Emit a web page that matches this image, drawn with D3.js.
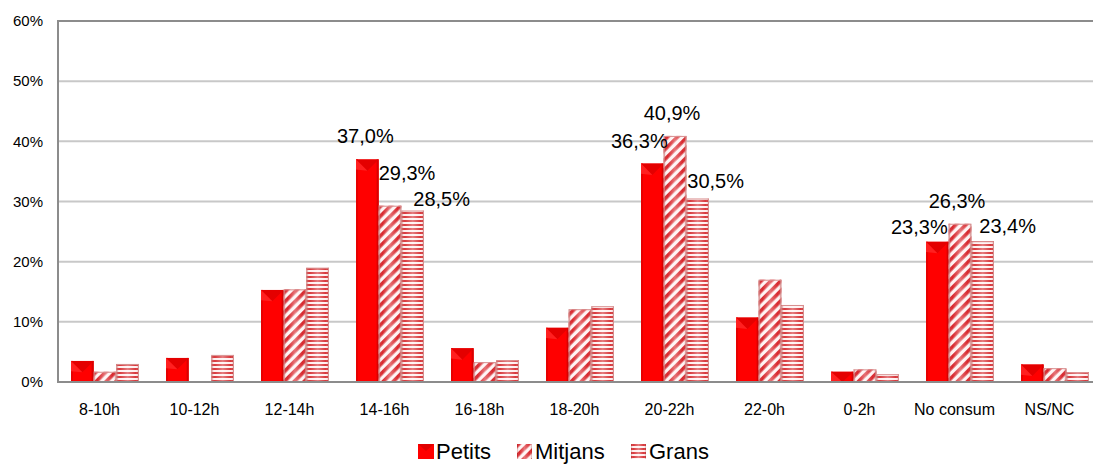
<!DOCTYPE html>
<html><head><meta charset="utf-8">
<script src="https://cdn.jsdelivr.net/npm/d3@7"></script>
<style>body{margin:0;background:#fff}svg{display:block}text{font-family:"Liberation Sans",Arial,sans-serif;fill:#000}</style>
</head><body><svg id="c" width="1093" height="464"></svg>
<script>
const categories = ["8-10h","10-12h","12-14h","14-16h","16-18h","18-20h","20-22h","22-0h","0-2h","No consum","NS/NC"];
const seriesNames = ["Petits","Mitjans","Grans"];
const petits  = [3.5, 4.0, 15.3, 37.0, 5.6, 9.0, 36.3, 10.7, 1.7, 23.3, 2.9];
const mitjans = [1.7, 0.0, 15.4, 29.3, 3.3, 12.1, 40.9, 17.0, 2.1, 26.3, 2.3];
const grans   = [3.0, 4.5, 19.0, 28.5, 3.6, 12.6, 30.5, 12.8, 1.3, 23.4, 1.6];
const yTicks = [0, 10, 20, 30, 40, 50, 60];
const yTickLabels = ["0%","10%","20%","30%","40%","50%","60%"];

// label nudges (layout, in px) for the data labels shown above 20%
const labelNudge = {
  "14-16h|Petits":[-2,16], "14-16h|Mitjans":[17,26], "14-16h|Grans":[29,5],
  "20-22h|Petits":[-13,16], "20-22h|Mitjans":[-3,16], "20-22h|Grans":[18,10],
  "No consum|Petits":[-18,8], "No consum|Mitjans":[-3,16], "No consum|Grans":[25,8]
};

const seriesValues = [petits, mitjans, grans];
const fmt = v => v.toFixed(1).replace(".", ",") + "%";

const svg = d3.select("#c");
const L = 58, T = 21, B = 382, R = 1103;
const x0 = d3.scaleBand().domain(categories).range([L, R]).padding(0);
const x1 = d3.scaleBand().domain(seriesNames).range([13, 81]).padding(0);
const y = d3.scaleLinear().domain([0, 60]).range([B, T]);

const defs = svg.append("defs");
const pm = defs.append("pattern").attr("id","diag").attr("patternUnits","userSpaceOnUse")
  .attr("width",7).attr("height",7).attr("patternTransform","rotate(45)");
pm.append("rect").attr("width",7).attr("height",7).attr("fill","#fff3f3");
pm.append("rect").attr("width",3.6).attr("height",7).attr("fill","#d8262c");
const pg = defs.append("pattern").attr("id","horiz").attr("patternUnits","userSpaceOnUse")
  .attr("width",8).attr("height",4);
pg.append("rect").attr("width",8).attr("height",4).attr("fill","#fff0f0");
pg.append("rect").attr("y",0).attr("width",8).attr("height",2).attr("fill","#d8383c");
const sh = defs.append("linearGradient").attr("id","shade").attr("x1","0").attr("x2","1").attr("y1","0").attr("y2","0");
sh.append("stop").attr("offset","0").attr("stop-color","#800000").attr("stop-opacity",0.35);
sh.append("stop").attr("offset","0.15").attr("stop-color","#ffffff").attr("stop-opacity",0.0);
sh.append("stop").attr("offset","0.5").attr("stop-color","#ffffff").attr("stop-opacity",0.35);
sh.append("stop").attr("offset","0.85").attr("stop-color","#ffffff").attr("stop-opacity",0.0);
sh.append("stop").attr("offset","1").attr("stop-color","#800000").attr("stop-opacity",0.35);

svg.append("g").selectAll("line").data(yTicks.filter(t => t > 0 && t < 60)).join("line")
  .attr("x1", L).attr("x2", R).attr("y1", d => y(d)).attr("y2", d => y(d))
  .attr("stroke", "#c8c8c8").attr("stroke-width", 2);
svg.append("line").attr("x1",L).attr("x2",R).attr("y1",y(60)).attr("y2",y(60)).attr("stroke","#8c8c8c").attr("stroke-width",2);

svg.append("g").selectAll("text").data(yTicks).join("text")
  .attr("x", 43).attr("y", d => y(d)).attr("dy","0.35em").attr("text-anchor","end")
  .attr("font-size", 15).text((d,i) => yTickLabels[i]);

function drawBar(g, series, x, yv, w) {
  const h = B - yv;
  if (h <= 0) return;
  if (series === "Petits") {
    g.append("rect").attr("x",x).attr("y",yv).attr("width",w).attr("height",h).attr("fill","#ff0000");
    g.append("rect").attr("x",x).attr("y",yv).attr("width",2).attr("height",h).attr("fill","#e80000");
    g.append("rect").attr("x",x+w-2).attr("y",yv).attr("width",2).attr("height",h).attr("fill","#d80000");
    const th = Math.min(w*0.5, h);
    g.append("path").attr("d", `M${x},${yv}L${x+w},${yv}L${x+w/2},${yv+th}Z`).attr("fill","#e40000");
    g.append("path").attr("d", `M${x},${yv}L${x+w/2},${yv+th}L${x},${yv+th*0.9}Z`).attr("fill","#ff2020");
  } else {
    g.append("rect").attr("x",x).attr("y",yv).attr("width",w).attr("height",h)
      .attr("fill", series === "Mitjans" ? "url(#diag)" : "url(#horiz)");
    g.append("rect").attr("x",x).attr("y",yv).attr("width",w).attr("height",h).attr("fill","url(#shade)");
    g.append("rect").attr("x",x+0.5).attr("y",yv+0.5).attr("width",w-1).attr("height",h-1)
      .attr("fill","none").attr("stroke","#d89090").attr("stroke-width",1);
  }
}

const bars = svg.append("g");
categories.forEach((c, ci) => {
  seriesNames.forEach((s, si) => {
    const v = seriesValues[si][ci];
    drawBar(bars, s, x0(c) + x1(s), y(v), x1.bandwidth());
  });
});

svg.append("line").attr("x1",L).attr("x2",L).attr("y1",y(60)-1).attr("y2",B+1).attr("stroke","#8c8c8c").attr("stroke-width",2);
svg.append("line").attr("x1",L).attr("x2",R).attr("y1",B).attr("y2",B).attr("stroke","#8c8c8c").attr("stroke-width",2);

const lab = svg.append("g");
categories.forEach((c, ci) => {
  seriesNames.forEach((s, si) => {
    const v = seriesValues[si][ci];
    if (v > 20) {
      const n = labelNudge[c + "|" + s] || [0, 8];
      lab.append("text").attr("x", x0(c) + x1(s) + x1.bandwidth()/2 + n[0]).attr("y", y(v) - n[1])
        .attr("text-anchor","middle").attr("font-size", 20).text(fmt(v));
    }
  });
});

svg.append("g").selectAll("text").data(categories).join("text")
  .attr("x", d => x0(d) + x0.bandwidth()/2 - 6).attr("y", 415).attr("text-anchor","middle")
  .attr("font-size", 16).text(d => d);

const legendX = [418, 517, 631];
const lg = svg.append("g");
seriesNames.forEach((s, i) => {
  const gx = legendX[i];
  const g = lg.append("g");
  if (s === "Petits") {
    g.append("rect").attr("x",gx).attr("y",444).attr("width",16).attr("height",15).attr("fill","#ff0000");
    g.append("path").attr("d",`M${gx},444L${gx+16},444L${gx+8},451Z`).attr("fill","#e00000");
  } else {
    g.append("rect").attr("x",gx).attr("y",444).attr("width",15).attr("height",15)
      .attr("fill", s === "Mitjans" ? "url(#diag)" : "url(#horiz)");
    g.append("rect").attr("x",gx).attr("y",444).attr("width",15).attr("height",15).attr("fill","url(#shade)");
  }
  g.append("text").attr("x", gx + 18).attr("y", 459).attr("font-size", 22).text(s);
});
</script></body></html>
